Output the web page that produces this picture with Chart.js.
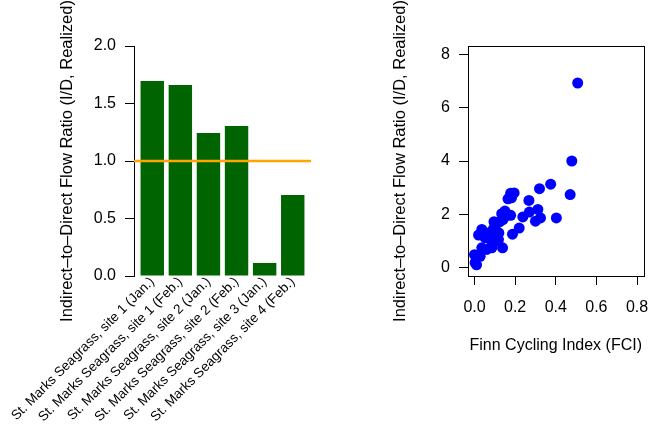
<!DOCTYPE html>
<html><head><meta charset="utf-8">
<script src="https://cdn.jsdelivr.net/npm/chart.js@4"></script>
<style>
html,body{margin:0;padding:0;background:#fff;overflow:hidden;}
#wrap{position:relative;width:649px;height:428px;}
canvas{position:absolute;left:0;top:0;}
</style></head><body>
<div id="wrap"><canvas id="bar" width="649" height="428"></canvas><canvas id="sc" width="649" height="428"></canvas></div>
<script>
// ---- data ----
const siteLabels = [
  'St. Marks Seagrass, site 1 (Jan.)',
  'St. Marks Seagrass, site 1 (Feb.)',
  'St. Marks Seagrass, site 2 (Jan.)',
  'St. Marks Seagrass, site 2 (Feb.)',
  'St. Marks Seagrass, site 3 (Jan.)',
  'St. Marks Seagrass, site 4 (Feb.)'
];
const ratioValues = [1.696, 1.661, 1.243, 1.304, 0.113, 0.704];
const referenceLevel = 1.0;
const barYTicks = [0, 0.5, 1.0, 1.5, 2.0];

const fciValues = [0.508, 0.479, 0.471, 0.375, 0.320, 0.268, 0.403, 0.312, 0.325, 0.300,
                   0.270, 0.238, 0.220, 0.187, 0.195, 0.178, 0.165, 0.182, 0.178, 0.150,
                   0.140, 0.134, 0.125, 0.138, 0.096, 0.093, 0.110, 0.118, 0.093, 0.085,
                   0.060, 0.036, 0.036, 0.020, 0.052, 0.068, 0.078, 0.028, 0.000, 0.003,
                   0.010, 0.120, 0.105, 0.158];
const idValues  = [6.93, 4.00, 2.74, 3.13, 2.96, 2.52, 1.86, 2.18, 1.86, 1.74,
                   2.08, 1.90, 1.48, 1.25, 2.80, 2.79, 2.58, 2.62, 1.96, 2.12,
                   1.80, 2.02, 1.72, 0.74, 1.72, 1.45, 1.32, 1.05, 0.93, 0.74,
                   0.68, 0.74, 1.43, 1.22, 1.12, 1.30, 1.05, 0.42, 0.48, 0.18,
                   0.10, 1.30, 1.60, 1.95];
const scatterXTicks = [0, 0.2, 0.4, 0.6, 0.8];
const scatterYTicks = [0, 2, 4, 6, 8];
const yTitle = 'Indirect\u2013to\u2013Direct Flow Ratio (I/D, Realized)';
const xTitle = 'Finn Cycling Index (FCI)';

// ---- setup ----
const FONT = '"Liberation Sans", Arial, Helvetica, sans-serif';
Chart.defaults.font.family = FONT;
Chart.defaults.color = '#000';

function yTitlePlugin(cx) {
  return {
    id: 'ytitle',
    afterDraw(chart) {
      const ctx = chart.ctx, a = chart.chartArea;
      ctx.save();
      ctx.translate(cx, (a.top + a.bottom) / 2);
      ctx.rotate(-Math.PI / 2);
      ctx.font = '16.5px ' + FONT;
      ctx.fillStyle = '#000';
      ctx.textAlign = 'center';
      ctx.textBaseline = 'middle';
      ctx.fillText(yTitle, 0, 0);
      ctx.restore();
    }
  };
}

const refLine = {
  id: 'refline',
  afterDatasetsDraw(chart) {
    const ctx = chart.ctx, a = chart.chartArea;
    const y = chart.scales.y.getPixelForValue(referenceLevel);
    ctx.save();
    ctx.strokeStyle = '#FFA500';
    ctx.lineWidth = 2.5;
    ctx.beginPath();
    ctx.moveTo(a.left, y);
    ctx.lineTo(a.right, y);
    ctx.stroke();
    ctx.restore();
  }
};

const boxPlugin = {
  id: 'box',
  afterDraw(chart) {
    const ctx = chart.ctx, a = chart.chartArea;
    ctx.save();
    ctx.strokeStyle = '#000';
    ctx.lineWidth = 1;
    ctx.strokeRect(Math.round(a.left) + 0.5, Math.round(a.top) + 0.5,
                   Math.round(a.right - a.left), Math.round(a.bottom - a.top));
    ctx.restore();
  }
};

// bar positions along the x axis (R barplot layout: width 1, space 0.2)
const barPos = siteLabels.map((_, i) => 0.7 + 1.2 * i);

new Chart(document.getElementById('bar'), {
  type: 'bar',
  data: {
    datasets: [{
      data: ratioValues.map((v, i) => ({ x: barPos[i], y: v })),
      backgroundColor: '#006400',
      borderWidth: 0,
      barPercentage: 1 / 1.2,
      categoryPercentage: 1
    }]
  },
  options: {
    responsive: false,
    animation: false,
    events: [],
    layout: { padding: { left: 0, right: 338, top: 46, bottom: 0 } },
    plugins: { legend: { display: false }, tooltip: { enabled: false } },
    scales: {
      x: {
        type: 'linear', min: -0.08, max: 7.48, offset: false,
        afterBuildTicks: s => { s.ticks = barPos.map(v => ({ value: v })); },
        afterFit: s => { s.height = 152; s.paddingLeft = 0; s.paddingRight = 0; },
        grid: { display: false, drawTicks: false },
        border: { display: false },
        ticks: {
          autoSkip: false, minRotation: 45, maxRotation: 45, padding: -2,
          color: '#000', font: { size: 13.5 },
          callback: (v, i) => siteLabels[i]
        }
      },
      y: {
        min: 0, max: 2,
        afterBuildTicks: s => { s.ticks = barYTicks.map(v => ({ value: v })); },
        afterFit: s => { s.width = 134; s.paddingTop = 0; s.paddingBottom = 0; },
        grid: { drawOnChartArea: false, color: '#000', tickLength: 9 },
        border: { display: true, color: '#000', width: 1 },
        ticks: { padding: 9, color: '#000', font: { size: 16 }, callback: v => Number(v).toFixed(1) }
      }
    }
  },
  plugins: [refLine, yTitlePlugin(67)]
});

new Chart(document.getElementById('sc'), {
  type: 'scatter',
  data: {
    datasets: [{
      data: fciValues.map((x, i) => ({ x: x, y: idValues[i] })),
      backgroundColor: '#0000FF',
      borderWidth: 0,
      pointRadius: 5.5
    }]
  },
  options: {
    responsive: false,
    animation: false,
    events: [],
    layout: { padding: { left: 380, right: 5, top: 46, bottom: 0 } },
    plugins: { legend: { display: false }, tooltip: { enabled: false } },
    scales: {
      x: {
        type: 'linear', min: -0.032, max: 0.832,
        afterBuildTicks: s => { s.ticks = scatterXTicks.map(v => ({ value: v })); },
        afterFit: s => { s.height = 152; s.paddingLeft = 0; s.paddingRight = 0; },
        grid: { drawOnChartArea: false, color: '#000', tickLength: 9 },
        border: { display: false },
        ticks: { padding: 13, color: '#000', font: { size: 16 }, maxRotation: 0, autoSkip: false, callback: v => Number(v).toFixed(1) },
        title: { display: true, text: xTitle, color: '#000', font: { size: 16 }, padding: { top: 0, bottom: 73 } }
      },
      y: {
        type: 'linear', min: -0.32, max: 8.32,
        afterBuildTicks: s => { s.ticks = scatterYTicks.map(v => ({ value: v })); },
        afterFit: s => { s.width = 88; s.paddingTop = 0; s.paddingBottom = 0; },
        grid: { drawOnChartArea: false, color: '#000', tickLength: 9 },
        border: { display: false },
        ticks: { padding: 9, color: '#000', font: { size: 16 }, callback: v => String(v) }
      }
    }
  },
  plugins: [boxPlugin, yTitlePlugin(400)]
});
</script>
</body></html>
